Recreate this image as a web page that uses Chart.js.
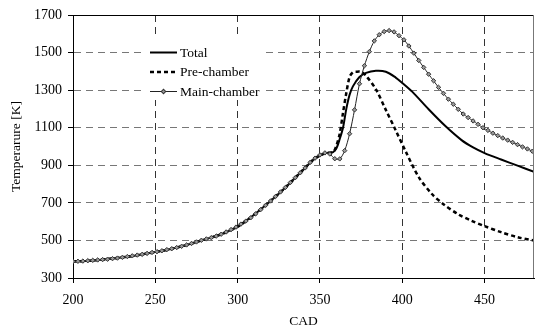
<!DOCTYPE html>
<html lang="en">
<head>
  <meta charset="UTF-8">
  <title>Temperature vs CAD</title>
  <script src="https://cdn.jsdelivr.net/npm/chart.js"></script>
  <style>
    html, body { margin: 0; padding: 0; background: #fff; }
    #wrap { width: 539px; height: 326px; }
  </style>
</head>
<body>
  <div id="wrap"><canvas id="temp-chart" width="539" height="326"></canvas></div>

  <script>
    // main chamber (one point per marker)
    const mainCad = [200, 203, 206, 209, 212, 215, 218, 221, 224, 227, 230, 233, 236, 239, 242, 245, 248, 251, 254, 257,
      260, 263, 266, 269, 272, 275, 278, 281, 284, 287, 290, 293, 296, 299, 302, 305, 308, 311, 314, 317,
      320, 323, 326, 329, 332, 335, 338, 341, 344, 347, 350, 353, 356, 359, 362, 365, 368, 371, 374, 377,
      380, 383, 386, 389, 392, 395, 398, 401, 404, 407, 410, 413, 416, 419, 422, 425, 428, 431, 434, 437,
      440, 443, 446, 449, 452, 455, 458, 461, 464, 467, 470, 473, 476, 479];
    const mainTemp = [388, 389, 390, 392, 394, 396, 398, 400, 403, 406, 410, 414, 418, 422, 426, 431, 436, 440, 445, 451,
      456, 462, 469, 476, 484, 492, 501, 508, 515, 523, 533, 545, 558, 571, 587, 603, 621, 642, 664, 687,
      710, 734, 758, 782, 808, 834, 860, 886, 915, 938, 955, 966, 960, 935, 934, 978, 1068, 1195, 1334, 1430,
      1505, 1562, 1595, 1612, 1617, 1610, 1590, 1568, 1535, 1497, 1458, 1421, 1385, 1350, 1315, 1283, 1252, 1225, 1198, 1173,
      1154, 1136, 1118, 1100, 1086, 1071, 1058, 1045, 1034, 1022, 1010, 998, 987, 975];

    const totalCad = [200, 210, 220, 230, 240, 250, 260, 270, 280, 290, 300, 310, 320, 330, 340, 346, 350, 354, 358,
      360, 362, 364, 366, 368, 370, 374, 378, 384, 390, 396, 400, 406, 416, 426, 436, 443, 450, 460, 470, 480];
    const totalTemp = [388, 392, 400, 410, 423, 438, 456, 478, 505, 533, 573, 637, 710, 790, 878, 930, 952, 966, 970,
      990, 1040, 1100, 1200, 1275, 1320, 1370, 1392, 1403, 1398, 1367, 1338, 1292, 1198, 1110, 1034, 995, 965, 931, 898, 865];

    const preCad = [200, 210, 220, 230, 240, 250, 260, 270, 280, 290, 300, 310, 320, 330, 340, 346, 350, 354, 358,
      360, 362, 364, 366, 368, 370, 372, 375, 378, 384, 390, 396, 402, 410, 418, 425, 434, 442, 450, 460, 470, 480];
    const preTemp = [388, 392, 400, 410, 423, 438, 456, 478, 505, 533, 573, 637, 710, 790, 878, 930, 952, 966, 970,
      1005, 1068, 1180, 1285, 1370, 1395, 1398, 1397, 1376, 1304, 1195, 1086, 975, 837, 747, 693, 639, 605, 576, 544, 517, 500];

    const seriesNames = ['Total', 'Pre-chamber', 'Main-chamber'];
    const yTicks = [300, 500, 700, 900, 1100, 1300, 1500, 1700];

    const serif = '"Liberation Serif", "Times New Roman", serif';

    function toPoints(xs, ys) {
      return xs.map((x, i) => ({ x: x, y: ys[i] }));
    }

    // frame on top and right, plus the boxed legend inside the plot
    const framePlugin = {
      id: 'frameAndLegend',
      afterDraw(chart) {
        const ctx = chart.ctx;
        const a = chart.chartArea;
        ctx.save();
        ctx.lineWidth = 1;
        ctx.strokeStyle = '#000';
        ctx.beginPath();
        ctx.moveTo(a.left, a.top + 0.5);
        ctx.lineTo(a.right, a.top + 0.5);
        ctx.stroke();
        ctx.strokeStyle = '#777';
        ctx.beginPath();
        ctx.moveTo(a.right - 0.5, a.top);
        ctx.lineTo(a.right - 0.5, a.bottom);
        ctx.stroke();

        ctx.fillStyle = '#fff';
        ctx.fillRect(141, 36, 122, 64);

        const rows = [52.5, 72, 91.5];
        chart.data.datasets.forEach((ds, i) => {
          const y = rows[i];
          ctx.save();
          ctx.strokeStyle = ds.borderColor;
          ctx.lineWidth = ds.borderWidth;
          ctx.setLineDash(ds.borderDash || []);
          ctx.beginPath();
          ctx.moveTo(150, y);
          ctx.lineTo(177, y);
          ctx.stroke();
          ctx.restore();
          if (ds.pointRadius > 0) {
            ctx.save();
            ctx.translate(163.5, y);
            ctx.rotate(Math.PI / 4);
            ctx.fillStyle = ds.pointBackgroundColor;
            ctx.strokeStyle = ds.pointBorderColor;
            ctx.lineWidth = 1;
            ctx.fillRect(-1.6, -1.6, 3.2, 3.2);
            ctx.strokeRect(-1.6, -1.6, 3.2, 3.2);
            ctx.restore();
          }
          ctx.fillStyle = '#000';
          ctx.font = '13.5px ' + serif;
          ctx.textAlign = 'left';
          ctx.textBaseline = 'middle';
          ctx.fillText(ds.label, 180, y + 0.5);
        });
        ctx.restore();
      }
    };

    new Chart(document.getElementById('temp-chart'), {
      type: 'line',
      data: {
        datasets: [{
          label: seriesNames[0],
          data: toPoints(totalCad, totalTemp),
          borderColor: '#000',
          borderWidth: 2,
          pointRadius: 0,
          tension: 0.3,
          fill: false,
          order: 1
        }, {
          label: seriesNames[1],
          data: toPoints(preCad, preTemp),
          borderColor: '#000',
          borderWidth: 2.5,
          borderDash: [4, 3],
          pointRadius: 0,
          tension: 0.3,
          fill: false,
          order: 2
        }, {
          label: seriesNames[2],
          data: toPoints(mainCad, mainTemp),
          borderColor: '#222',
          borderWidth: 1,
          pointStyle: 'rectRot',
          pointRadius: 2.2,
          pointBackgroundColor: '#999',
          pointBorderColor: '#333',
          pointBorderWidth: 1,
          tension: 0.3,
          fill: false,
          order: 0
        }]
      },
      options: {
        responsive: false,
        animation: false,
        layout: { padding: { top: 15, right: 1, left: 0, bottom: 0 } },
        plugins: {
          legend: { display: false },
          tooltip: { enabled: false }
        },
        scales: {
          x: {
            type: 'linear',
            min: 200,
            max: 480,
            afterFit: (scale) => { scale.height = 48; },
            ticks: {
              stepSize: 50,
              includeBounds: false,
              color: '#000',
              padding: 9,
              font: { family: serif, size: 14 }
            },
            grid: { color: '#333', lineWidth: 1, tickLength: 5, tickColor: '#000' },
            border: { display: true, color: '#000', width: 1, dash: [7, 5] },
            title: {
              display: true,
              text: 'CAD',
              color: '#000',
              font: { family: serif, size: 13.5, lineHeight: 1 },
              padding: { top: 0, bottom: -2 }
            }
          },
          y: {
            min: 300,
            max: 1700,
            afterFit: (scale) => { scale.width = 73; },
            afterBuildTicks: (scale) => { scale.ticks = yTicks.map(v => ({ value: v })); },
            ticks: {
              color: '#000',
              padding: 6,
              font: { family: serif, size: 14 },
              callback: (v) => String(v)
            },
            grid: { color: '#777', lineWidth: 1, tickLength: 5, tickColor: '#000' },
            border: { display: true, color: '#000', width: 1, dash: [7, 5] },
            title: {
              display: true,
              text: 'Temperarure [K]',
              color: '#000',
              font: { family: serif, size: 13.5, lineHeight: 1 },
              padding: { top: 10, bottom: 0 }
            }
          }
        }
      },
      plugins: [framePlugin]
    });
  </script>
</body>
</html>
